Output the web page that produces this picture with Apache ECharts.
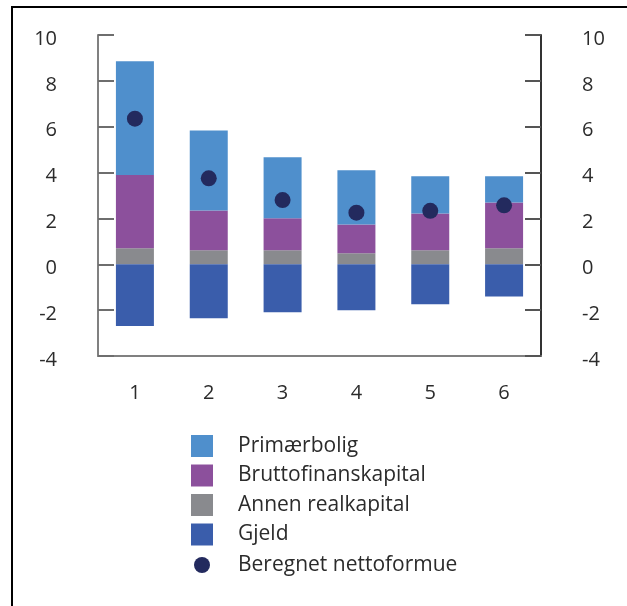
<!DOCTYPE html>
<html>
<head>
<meta charset="utf-8">
<script src="https://cdn.jsdelivr.net/npm/echarts@6/dist/echarts.min.js"></script>
<style>
  html, body { margin: 0; padding: 0; background: #fff; }
  #chart { width: 627px; height: 606px; }
</style>
</head>
<body>
<div id="chart"></div>
<script>
// Categories along the x axis
const categories = ['1', '2', '3', '4', '5', '6'];

// Stacked components (positive stack: realkapital, finanskapital, primærbolig; negative: gjeld)
const annenRealkapital = [0.70, 0.61, 0.61, 0.48, 0.61, 0.70];
const bruttofinanskapital = [3.19, 1.74, 1.40, 1.26, 1.61, 2.00];
const primaerbolig = [4.96, 3.49, 2.66, 2.36, 1.62, 1.14];
const gjeld = [-2.69, -2.35, -2.09, -2.01, -1.74, -1.40];

// Computed net wealth shown as dots
const nettoformue = [6.35, 3.75, 2.80, 2.25, 2.33, 2.57];

// Value axis ticks
const yMin = -4, yMax = 10, yStep = 2;

const colors = {
  primaer: '#4f8fcc',
  brutto: '#8c509c',
  annen: '#898a8e',
  gjeld: '#3a5dab',
  netto: '#232a5e'
};

const font = "'Open Sans', 'Noto Sans', sans-serif";
const textColor = '#2b2b2b';

const chart = echarts.init(document.getElementById('chart'), null, { renderer: 'canvas' });

const valueAxisBase = {
  type: 'value',
  min: yMin,
  max: yMax,
  interval: yStep,
  splitLine: { show: false },
  axisLabel: {
    margin: 41,
    formatter: v => '{t|' + v + '}',
    rich: { t: { fontFamily: font, fontSize: 20, color: textColor, padding: [8, 0, 0, 0] } }
  }
};

chart.setOption({
  animation: false,
  backgroundColor: '#fff',
  grid: { left: 98, right: 86, top: 35, bottom: 250, containLabel: false },
  xAxis: {
    type: 'category',
    data: categories,
    axisLine: { show: true, onZero: false, lineStyle: { color: '#808080', width: 2 } },
    axisTick: { show: false },
    axisLabel: { fontFamily: font, fontSize: 20, color: textColor, margin: 27 }
  },
  yAxis: [
    Object.assign({}, valueAxisBase, {
      position: 'left',
      axisLine: { show: true, lineStyle: { color: '#808080', width: 2 } },
      axisTick: { show: true, inside: true, length: 16, lineStyle: { color: '#6e6e6e', width: 2 } }
    }),
    Object.assign({}, valueAxisBase, {
      position: 'right',
      axisLine: { show: true, lineStyle: { color: '#333', width: 2 } },
      axisTick: { show: true, inside: true, length: 16, lineStyle: { color: '#555', width: 2 } }
    })
  ],
  legend: [
    {
      orient: 'vertical',
      left: 186,
      top: 430,
      itemWidth: 22,
      itemHeight: 22,
      itemGap: 7.5,
      icon: 'rect',
      selectedMode: false,
      data: ['Primærbolig', 'Bruttofinanskapital', 'Annen realkapital', 'Gjeld'],
      textStyle: { fontFamily: font, fontSize: 21, color: textColor, padding: [0, 0, 0, 20], lineHeight: 22 }
    },
    {
      orient: 'vertical',
      left: 189,
      top: 549,
      itemWidth: 16,
      itemHeight: 16,
      icon: 'circle',
      selectedMode: false,
      data: ['Beregnet nettoformue'],
      textStyle: { fontFamily: font, fontSize: 21, color: textColor, padding: [0, 0, 0, 23], lineHeight: 22 }
    }
  ],
  series: [
    {
      name: 'Annen realkapital', type: 'bar', stack: 'total', barWidth: 38,
      itemStyle: { color: colors.annen }, data: annenRealkapital
    },
    {
      name: 'Bruttofinanskapital', type: 'bar', stack: 'total', barWidth: 38,
      itemStyle: { color: colors.brutto }, data: bruttofinanskapital
    },
    {
      name: 'Primærbolig', type: 'bar', stack: 'total', barWidth: 38,
      itemStyle: { color: colors.primaer }, data: primaerbolig
    },
    {
      name: 'Gjeld', type: 'bar', stack: 'total', barWidth: 38,
      itemStyle: { color: colors.gjeld }, data: gjeld
    },
    {
      name: 'Beregnet nettoformue', type: 'scatter', symbol: 'circle', symbolSize: 16,
      itemStyle: { color: colors.netto, opacity: 1 }, data: nettoformue, z: 5
    }
  ],
  graphic: [
    {
      type: 'rect',
      shape: { x: 12, y: 7, width: 700, height: 700 },
      style: { fill: 'none', stroke: '#000', lineWidth: 2 },
      silent: true
    }
  ]
});
</script>
</body>
</html>
